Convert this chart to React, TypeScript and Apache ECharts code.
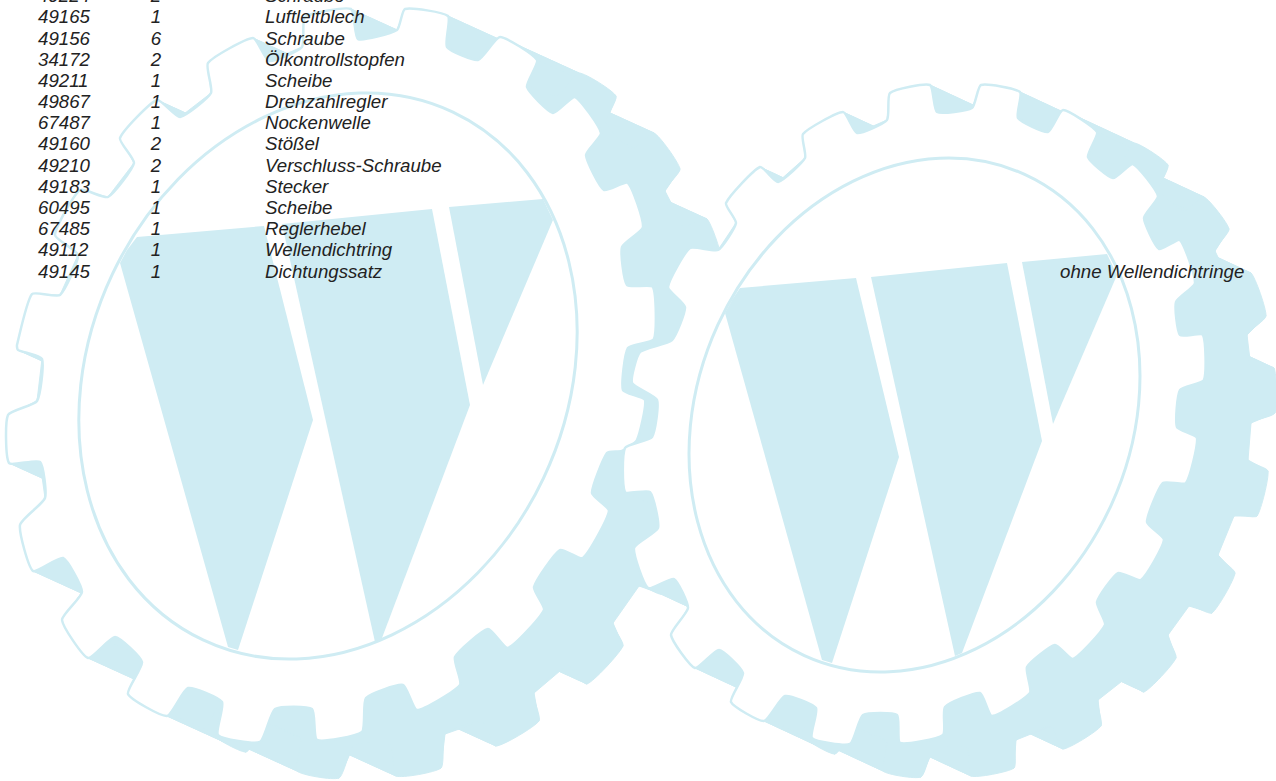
import React, { useEffect, useRef } from "react";
import * as echarts from "echarts";

const partNumbers = ["49224","49165","49156","34172","49211","49867","67487","49160","49210","49183","60495","67485","49112","49145"];
const quantities = ["2","1","6","2","1","1","1","2","2","1","1","1","1","1"];
const partNames = ["Schraube","Luftleitblech","Schraube","Ölkontrollstopfen","Scheibe","Drehzahlregler","Nockenwelle","Stößel","Verschluss-Schraube","Stecker","Scheibe","Reglerhebel","Wellendichtring","Dichtungssatz"];
const remarkText = "ohne Wellendichtringe";

const BLUE = "#cfecf3";
type P = [number, number];

const gearA: P[] = [[157,100],[180,117],[211,93],[208,63],[253,38],[269,61],[302,47],[305,17],[351,9],[358,39],[397,30],[405,9],[448,16],[447,47],[478,60],[500,37],[537,60],[527,87],[553,113],[575,97],[601,133],[586,155],[604,190],[628,183],[643,227],[622,247],[627,285],[653,287],[654,339],[628,348],[623,390],[645,400],[637,440],[622,451],[607,453],[592,493],[609,511],[583,558],[560,550],[534,587],[544,610],[508,648],[488,629],[455,657],[460,685],[417,710],[403,685],[366,698],[362,732],[317,740],[312,709],[275,709],[260,742],[218,735],[222,702],[188,688],[167,716],[128,694],[142,662],[115,637],[88,658],[62,620],[82,592],[63,558],[33,571],[20,525],[45,498],[40,462],[9,463],[8,415],[37,401],[42,359],[18,350],[17,345],[32,294],[60,295],[78,255],[55,235],[80,190],[108,197],[134,163],[120,138]];
const gearB: P[] = [[760,167],[778,182],[805,158],[803,134],[843,112],[857,133],[887,120],[890,93],[930,85],[937,112],[972,108],[981,85],[1020,92],[1018,118],[1048,132],[1063,110],[1097,132],[1088,157],[1113,178],[1133,164],[1158,196],[1144,218],[1159,249],[1180,240],[1195,283],[1176,302],[1180,335],[1203,335],[1204,380],[1180,390],[1177,427],[1197,438],[1186,483],[1163,483],[1147,522],[1164,540],[1141,580],[1118,573],[1097,602],[1105,625],[1073,659],[1055,645],[1027,667],[1030,693],[992,716],[980,693],[945,707],[943,735],[900,743],[897,715],[863,715],[850,744],[812,738],[816,708],[785,696],[764,721],[731,702],[743,673],[719,650],[695,668],[671,635],[688,608],[674,579],[648,588],[634,548],[658,528],[650,492],[625,492],[625,448],[652,437],[657,400],[632,383],[640,352],[672,340],[685,307],[668,287],[690,248],[718,250],[736,223],[726,203]];

const marksA: P[][] = [
  [[137,237],[264,226],[313,420],[238,650],[228,647],[120,263],[127,250]],
  [[282,224],[432,209],[470,405],[382,638],[375,642]],
  [[449,207],[543,199],[553,220],[483,385]],
];
const marksB: P[][] = [
  [[740,288],[856,278],[899,457],[832,663],[822,660],[725,313],[732,300]],
  [[871,277],[1007,263],[1042,441],[962,653],[955,656]],
  [[1022,262],[1107,254],[1117,275],[1053,424]],
];

function gear(points: P[], v: P, ring: any, marks: P[][]) {
  const els: any[] = [];
  const fillStyle = { fill: BLUE, stroke: BLUE, lineWidth: 1 };
  const moved = points.map(([x, y]) => [x + v[0], y + v[1]]);
  points.forEach((p, i) => {
    const j = (i + 1) % points.length;
    els.push({ type: "polygon", silent: true, shape: { points: [p, points[j], moved[j], moved[i]] }, style: fillStyle });
  });
  els.push({ type: "polygon", silent: true, shape: { points: moved, smooth: 0.18 }, style: fillStyle });
  els.push({ type: "polygon", silent: true, shape: { points, smooth: 0.18 }, style: { fill: "#ffffff", stroke: BLUE, lineWidth: 2.5 } });
  els.push({ type: "ellipse", silent: true, x: ring.x, y: ring.y, rotation: ring.rotation, shape: { cx: 0, cy: 0, rx: ring.rx, ry: ring.ry }, style: { fill: "none", stroke: BLUE, lineWidth: 3 } });
  marks.forEach((m) => els.push({ type: "polygon", silent: true, shape: { points: m }, style: { fill: BLUE } }));
  return els;
}

const FONT = 'italic 18.67px "Liberation Sans", Arial, sans-serif';
const rowY = (i: number) => -4.2 + 21.17 * i;
const textEl = (text: string, x: number, y: number, align = "left") => ({
  type: "text", silent: true, x, y,
  style: { text, font: FONT, fill: "#222222", textAlign: align, textVerticalAlign: "middle" },
});

export default function App() {
  const ref = useRef<HTMLDivElement>(null);
  useEffect(() => {
    document.body.style.margin = "0";
    const chart = echarts.init(ref.current!, null, { renderer: "svg" });
    const elements: any[] = [
      ...gear(gearA, [79, 36], { x: 328, y: 376, rotation: 1.129, rx: 292, ry: 238.4 }, marksA),
      ...gear(gearB, [71, 33], { x: 914.5, y: 415, rotation: 1.142, rx: 264.7, ry: 216.4 }, marksB),
    ];
    partNumbers.forEach((n, i) => {
      elements.push(textEl(n, 38, rowY(i)));
      elements.push(textEl(quantities[i], 156, rowY(i), "center"));
      elements.push(textEl(partNames[i], 265, rowY(i)));
    });
    elements.push(textEl(remarkText, 1060, rowY(13)));
    chart.setOption({ animation: false, backgroundColor: "#ffffff", graphic: { elements } });
    return () => chart.dispose();
  }, []);
  return <div ref={ref} style={{ position: "fixed", left: 0, top: 0, width: 1276, height: 781, overflow: "hidden" }} />;
}
